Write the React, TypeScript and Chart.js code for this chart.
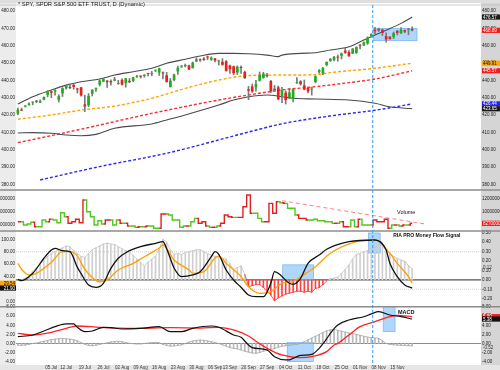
import React, { useEffect, useRef } from 'react';
import { Chart, registerables } from 'chart.js';

Chart.register(...registerables);

const FONT = "'Liberation Sans', Arial, sans-serif";

// ---------------- data ----------------
const dates = [
  '2021-06-22','2021-06-23','2021-06-24','2021-06-25','2021-06-28','2021-06-29','2021-06-30',
  '2021-07-01','2021-07-02','2021-07-06','2021-07-07','2021-07-08','2021-07-09','2021-07-12','2021-07-13','2021-07-14','2021-07-15','2021-07-16','2021-07-19','2021-07-20','2021-07-21','2021-07-22','2021-07-23','2021-07-26','2021-07-27','2021-07-28','2021-07-29','2021-07-30',
  '2021-08-02','2021-08-03','2021-08-04','2021-08-05','2021-08-06','2021-08-09','2021-08-10','2021-08-11','2021-08-12','2021-08-13','2021-08-16','2021-08-17','2021-08-18','2021-08-19','2021-08-20','2021-08-23','2021-08-24','2021-08-25','2021-08-26','2021-08-27','2021-08-30','2021-08-31',
  '2021-09-01','2021-09-02','2021-09-03','2021-09-07','2021-09-08','2021-09-09','2021-09-10','2021-09-13','2021-09-14','2021-09-15','2021-09-16','2021-09-17','2021-09-20','2021-09-21','2021-09-22','2021-09-23','2021-09-24','2021-09-27','2021-09-28','2021-09-29','2021-09-30',
  '2021-10-01','2021-10-04','2021-10-05','2021-10-06','2021-10-07','2021-10-08','2021-10-11','2021-10-12','2021-10-13','2021-10-14','2021-10-15','2021-10-18','2021-10-19','2021-10-20','2021-10-21','2021-10-22','2021-10-25','2021-10-26','2021-10-27','2021-10-28','2021-10-29',
  '2021-11-01','2021-11-02','2021-11-03','2021-11-04','2021-11-05','2021-11-08','2021-11-09','2021-11-10','2021-11-11','2021-11-12','2021-11-15','2021-11-16','2021-11-17','2021-11-18','2021-11-19'
];
const padLabels = ['+1','+2','+3','+4','+5','+6','+7','+8','+9','+10','+11','+12','+13','+14','+15','+16','+17','+18'];

const weekTickDates = ['2021-07-06','2021-07-12','2021-07-19','2021-07-26','2021-08-02','2021-08-09','2021-08-16','2021-08-23','2021-08-30','2021-09-07','2021-09-13','2021-09-20','2021-09-27','2021-10-04','2021-10-11','2021-10-18','2021-10-25','2021-11-01','2021-11-08','2021-11-15'];
const weekTickLabels = ['05 Jul','12 Jul','19 Jul','26 Jul','02 Aug','09 Aug','16 Aug','23 Aug','30 Aug','06 Sep','13 Sep','20 Sep','27 Sep','04 Oct','11 Oct','18 Oct','25 Oct','01 Nov','08 Nov','15 Nov'];

const opens = [420.85,423.19,424.89,425.90,427.17,427.88,427.21,
  428.87,431.67,433.78,433.66,428.78,432.53,435.43,436.24,437.40,434.81,436.01,426.19,425.68,432.34,434.74,437.52,439.31,439.91,439.68,439.82,437.91,
  440.34,438.44,439.78,439.74,442.10,442.46,442.61,443.82,443.62,445.59,444.53,444.24,442.96,436.27,440.23,445.16,447.97,448.17,448.61,447.12,450.97,452.13,
  452.56,453.32,451.98,452.71,450.89,450.70,451.04,448.64,448.12,444.62,447.32,444.92,434.88,436.53,436.05,439.85,441.44,442.81,439.69,435.19,436.02,
  430.98,433.00,430.24,429.27,438.39,439.48,437.16,435.67,434.71,439.08,444.75,443.97,448.92,451.13,451.77,453.13,454.28,457.20,456.45,455.46,455.87,
  460.30,460.22,461.30,465.36,469.28,469.70,469.32,465.58,465.21,465.12,468.64,467.15,469.00,469.24,469.61];
const highs = [424.00,424.05,425.55,427.09,427.65,428.56,428.78,
  430.60,434.10,434.01,434.76,431.73,435.84,437.35,437.84,437.92,435.53,436.06,431.41,432.42,434.70,435.72,440.30,441.03,439.94,440.30,441.80,440.06,
  440.93,441.28,441.12,441.85,442.94,442.80,443.44,443.88,445.26,445.94,447.11,444.96,444.63,441.14,443.71,448.23,448.54,449.46,448.86,450.65,453.07,452.49,
  453.11,454.05,453.63,452.81,451.67,452.57,451.49,448.92,448.34,448.41,448.36,445.37,436.56,437.91,440.03,444.89,444.67,444.05,440.04,437.04,436.77,
  436.03,433.96,435.49,435.12,441.68,439.89,440.26,436.10,436.05,442.66,446.26,447.55,450.71,452.73,453.83,454.67,455.90,458.49,457.16,458.40,459.41,
  460.70,462.23,465.15,467.00,470.65,470.23,469.57,467.38,465.29,467.86,468.81,470.49,469.19,470.01,470.94];
const lows = [420.08,422.51,424.62,425.55,425.89,427.13,427.18,
  428.80,430.52,430.01,431.51,427.52,430.71,434.97,435.31,434.91,432.72,430.92,421.97,424.83,431.01,433.69,436.79,439.26,435.99,437.31,439.81,437.77,
  437.21,436.10,438.73,439.20,441.80,441.31,441.88,442.62,442.66,445.07,442.87,440.85,438.92,436.12,439.71,443.44,447.42,447.77,446.16,447.06,450.71,450.92,
  451.55,451.91,451.55,450.74,448.86,448.72,445.31,444.11,443.22,443.44,444.02,441.02,428.86,433.07,433.75,439.60,441.21,441.90,432.94,433.85,428.78,
  427.23,426.36,429.39,427.54,438.20,437.19,434.62,432.78,431.54,438.58,444.09,443.27,448.27,451.01,451.31,451.05,452.39,455.56,453.86,455.45,455.56,
  458.20,460.08,460.83,464.99,466.92,468.20,465.88,462.04,463.75,464.11,466.23,467.07,467.48,466.34,468.50];
const closes = [423.11,422.60,425.10,426.61,427.47,427.70,428.06,
  430.43,433.72,432.93,434.46,430.92,435.52,437.08,435.59,436.24,434.75,431.34,424.97,431.06,434.55,435.46,439.94,441.02,439.01,438.83,440.65,438.51,
  437.59,441.15,438.98,441.76,442.49,442.13,442.68,443.78,444.04,445.92,446.97,444.04,439.18,439.86,443.36,447.26,447.97,448.91,446.26,450.25,452.23,451.56,
  451.80,453.19,453.08,451.46,450.91,448.98,445.44,446.58,444.17,447.88,447.17,441.40,434.04,433.63,437.86,443.18,443.91,442.64,433.72,434.45,429.14,
  434.24,428.64,433.10,434.90,438.66,437.86,434.69,433.62,435.18,442.50,445.87,447.19,450.64,452.41,453.59,453.12,455.55,455.96,453.94,458.32,459.25,
  460.04,461.90,464.72,466.64,468.38,468.93,467.38,463.62,463.77,467.27,467.43,469.28,468.14,469.73,468.89];

// overlays: [day index, value]
const bbUpper: [number, number][] = [[0,426.4],[4,430.6],[9,434.5],[13,437.3],[17,439.2],[22,440.8],[26,443.1],[31,445.0],[36,447.0],[40,449.9],[45,452.2],[49,454.1],[54,455.6],[58,455.6],[62,455.4],[67,454.6],[70,453.7],[71,454.6],[76,455.6],[80,456.0],[84,457.5],[89,459.4],[93,463.3],[96,466.2],[99,469.0],[103,472.9],[106,476.57]];
const bbLower: [number, number][] = [[0,409.7],[4,409.9],[9,409.5],[13,408.5],[17,408.1],[21,408.9],[26,412.4],[36,414.9],[40,417.2],[45,420.1],[54,425.8],[58,428.7],[62,430.6],[67,431.6],[71,430.6],[74,429.7],[80,429.3],[89,428.7],[96,426.8],[100,424.8],[106,423.65]];
const sma50: [number, number][] = [[0,417.6],[9,420.1],[17,422.9],[26,425.2],[36,429.7],[45,435.4],[54,440.2],[62,442.8],[71,443.1],[80,443.3],[84,444.5],[96,447.0],[106,449.91]];
const sma100: [number, number][] = [[0,404.1],[16,411.4],[36,421.0],[54,428.7],[62,431.6],[71,434.5],[80,436.4],[89,438.7],[96,440.8],[106,445.57]];
const sma200: [number, number][] = [[6,382.6],[22,390.3],[40,398.0],[62,410.2],[71,415.0],[84,419.5],[96,422.8],[106,426.44]];

// volume in millions
const volumeM = [85.1,85.1,80.1,81.6,84.2,77.6,77.6,87.6,85.1,88.7,87.6,
  83.6,98.5,92.5,82.7,85.1,88.7,83.6,117.5,100,92.5,
  80.1,86.6,81.6,87.6,87.6,80.1,87.6,82.7,82.7,78.7,
  78.7,76.7,77.6,77.6,78.7,78.7,75.2,75.2,96.6,96.6,
  95.1,87.6,87.6,76.7,78.7,78.7,85.1,90.1,82.7,85.1,
  78.7,76.7,76.7,78.7,82.7,95.1,92.5,91.6,91.6,91.6,
  107.5,124.9,97.6,97.6,90.1,85.1,85.1,112.5,97.6,114.9,
  113.4,112.5,105.1,105.1,95.1,90.1,90.1,87.6,87.6,88.7,
  86.6,86.6,85.1,85.1,82.7,82.7,85.1,77.6,77.6,87.6,
  77.6,88.7,80.1,80.1,80.1,87.6,85.1,85.1,88.7,75.2,
  80.1,80.1,78.7,80.1,80.1,82.7];
const volTrend: [number, number][] = [[71,116.4],[110,81.2]];

// RIA PRO Money Flow Signal
const mfHist = [0.00,0.00,0.02,0.04,0.09,0.13,0.17,0.21,0.25,0.28,0.30,
  0.32,0.34,0.36,0.35,0.31,0.28,0.25,0.24,0.28,0.32,
  0.34,0.36,0.38,0.39,0.38,0.375,0.35,0.33,0.31,0.29,
  0.26,0.22,0.18,0.15,0.19,0.22,0.25,0.33,0.43,0.40,
  0.32,0.27,0.28,0.27,0.29,0.30,0.31,0.32,0.32,0.30,
  0.28,0.26,0.25,0.24,0.23,0.22,0.17,0.11,0.13,0.15,
  0.06,-0.07,-0.06,-0.05,-0.05,-0.08,-0.12,-0.16,-0.22,-0.19,
  -0.17,-0.15,-0.14,-0.13,-0.12,-0.12,-0.13,-0.12,-0.13,-0.09,
  -0.08,-0.05,-0.01,0.015,0.02,0.03,0.07,0.11,0.16,0.22,
  0.27,0.28,0.30,0.31,0.33,0.34,0.375,0.36,0.32,0.28,
  0.25,0.23,0.21,0.20,0.15,0.12];
const mfFast: [number, number][] = [[0,35.9],[1,33.7],[4,45.5],[7,69.6],[9,82.9],[10,85.6],[12,81.7],[14,80.1],[16,55],[17,45],[19,26.8],[21,23.1],[23,29.5],[25,53.5],[27,69.6],[29,78.5],[33,88.1],[37,93.6],[39,96.2],[40,85],[42,54],[44,40.1],[47,42.8],[49,48.1],[52,72.1],[53,80.1],[54,76],[56,50.8],[58,34.8],[60,23.1],[62,10.7],[64,8],[66,8],[68,29.5],[69,48.1],[70,45.5],[73,29.5],[74,27.9],[76,37.5],[78,61.5],[81,74.8],[83,84],[89,96.2],[96,98.9],[99,82.9],[100,61.5],[102,40.1],[104,26.8],[106,21.9]];
const mfSlow: [number, number][] = [[0,61.5],[1,52],[3,42.8],[5,45.5],[9,63],[12,80.1],[14,80.1],[16,73],[18,52],[22,32],[24,35],[27,50.8],[31,61.5],[34,72.1],[38,86],[39,90.9],[42,66.8],[46,50.8],[47,45.5],[50,48.1],[53,70],[54,73.2],[56,61.5],[60,40.1],[62,24],[65,13.5],[68,16],[71,29.5],[74,32],[76,40.1],[80,56.1],[84,77.6],[91,96.2],[96,98.9],[100,77.6],[102,61.5],[105,40.1],[106,29.54]];

// MACD
const macdLine: [number, number][] = [[0,1.5],[4,1.87],[7,2.75],[10,3.7],[13,4.3],[15,4.3],[16,3.56],[18,2.6],[20,2.75],[23,3.56],[25,3.5],[28,3.19],[33,3.34],[38,3.7],[41,2.6],[44,2.6],[47,3.34],[52,3.85],[54,3.56],[58,1.87],[60,1.36],[62,-0.33],[63,-0.9],[67,-1.43],[69,-2.9],[72,-3.6],[73,-3.6],[74,-3.26],[76,-2.6],[79,-2.4],[81,-1.06],[83,1.0],[84,2.24],[86,4.07],[89,5.16],[93,5.89],[95,6.5],[97,6.99],[100,6.26],[103,5.89],[106,5.38]];
const macdSignal: [number, number][] = [[0,2.24],[4,1.87],[9,2.46],[13,3.34],[16,3.85],[22,3.56],[31,3.34],[41,3.47],[49,3.4],[54,3.56],[58,2.97],[62,1.65],[64,0.5],[67,-1.06],[71,-2.53],[76,-3.12],[79,-2.9],[83,-1.8],[85,-0.33],[86,0],[89,1.87],[92,3.7],[96,4.8],[100,5.89],[102,6.2],[106,5.90]];
const macdHist = [-0.4,-0.4,-0.35,-0.2,0.0,0.1,0.3,0.5,0.7,0.85,0.95,
  1.05,1.1,1.05,0.95,0.8,0.6,0.2,-0.2,-0.45,-0.5,
  -0.4,-0.2,0.0,0.15,0.35,0.45,0.5,0.4,0.2,0.05,
  -0.05,-0.1,-0.1,0.0,0.1,0.2,0.25,0.15,-0.2,-0.45,
  -0.6,-0.55,-0.45,-0.3,0.0,0.3,0.55,0.7,0.75,0.7,
  0.55,0.4,0.2,0.0,-0.3,-0.6,-0.9,-1.1,-1.2,-1.4,
  -1.7,-1.9,-2.1,-2.15,-2.0,-1.7,-1.5,-1.3,-1.1,-0.8,
  -0.6,-0.5,-0.4,-0.3,-0.2,0.1,0.4,0.8,1.2,1.6,
  2.0,2.4,2.8,3.0,3.1,2.9,2.7,2.5,2.3,2.2,
  2.0,1.8,1.6,1.4,1.3,1.2,1.15,0.6,0.0,-0.2,
  -0.3,-0.35,-0.4,-0.45,-0.5,-0.52];

// annotations (in data units)
const signalDay = 95.4;
const highlightBoxes = [
  { axis: 'yP', x0: 95.5, x1: 107.3, v0: 470.0, v1: 462.9 },
  { axis: 'yMR', x0: 71.2, x1: 79.5, v0: 0.16, v1: 0.0 },
  { axis: 'yMR', x0: 94.2, x1: 97.4, v0: 0.497, v1: 0.285 },
  { axis: 'yD', x0: 72.4, x1: 79.4, v0: 0.18, v1: -4.0 },
  { axis: 'yD', x0: 98.2, x1: 101.4, v0: 8.09, v1: 2.6 },
];

const allLabels = [...dates, ...padLabels];
const pts = (a: [number, number][]) => a.map(([i, y]) => ({ x: allLabels[i], y }));
const last = <T,>(a: T[]) => a[a.length - 1];

const GREEN = '#1fae1f';
const RED = '#ee1c1c';

function tag(ctx: CanvasRenderingContext2D, x: number, w: number, y: number, text: string, bg: string, fg: string, align: 'left' | 'right') {
  ctx.fillStyle = bg;
  ctx.fillRect(x, y - 2.6, w, 5.2);
  ctx.fillStyle = fg;
  ctx.font = `4.5px ${FONT}`;
  ctx.textBaseline = 'middle';
  ctx.textAlign = align;
  ctx.fillText(text, align === 'left' ? x + 1 : x + w - 1, y + 0.3);
}

const overlay = {
  id: 'overlay',
  beforeDraw(chart: any) {
    const { ctx, chartArea: ca, width, height } = chart;
    ctx.save();
    ctx.fillStyle = '#ffffff';
    ctx.fillRect(0, 0, width, height);
    ctx.fillStyle = '#ececec';
    ctx.fillRect(0, 0, ca.left, height);
    ctx.fillStyle = '#d5d5d5';
    ctx.fillRect(ca.right, 0, width - ca.right, height);
    ctx.fillStyle = '#e6e6e6';
    ctx.fillRect(0, ca.bottom, width, height - ca.bottom);
    ctx.fillStyle = '#dedede';
    ctx.fillRect(0, 0, width, ca.top - 2);
    ctx.restore();
  },
  beforeDatasetsDraw(chart: any) {
    const { ctx, chartArea: ca, scales } = chart;
    const x = scales.x;
    ctx.save();
    const hline = (y: number, color: string, w: number, dash: number[]) => {
      ctx.beginPath();
      ctx.setLineDash(dash);
      ctx.strokeStyle = color;
      ctx.lineWidth = w;
      ctx.moveTo(ca.left, y);
      ctx.lineTo(ca.right, y);
      ctx.stroke();
    };
    hline(scales.yM.getPixelForValue(80), '#c4c4c4', 0.8, [1, 1]);
    hline(scales.yM.getPixelForValue(20), '#c4c4c4', 0.8, [1, 1]);
    hline(scales.yMR.getPixelForValue(0), '#555555', 1.2, []);
    hline(scales.yD.getPixelForValue(0), '#8a8a8a', 1, []);
    ctx.setLineDash([]);
    for (const b of highlightBoxes) {
      const s = scales[b.axis];
      const l = x.getPixelForValue(b.x0);
      const r = x.getPixelForValue(b.x1);
      const t = s.getPixelForValue(b.v0);
      const bt = s.getPixelForValue(b.v1);
      ctx.fillStyle = 'rgba(125,190,248,0.62)';
      ctx.fillRect(l, t, r - l, bt - t);
      ctx.strokeStyle = 'rgba(90,165,240,0.9)';
      ctx.lineWidth = 0.6;
      ctx.strokeRect(l, t, r - l, bt - t);
    }
    ctx.restore();
  },
  afterDatasetsDraw(chart: any) {
    const { ctx, chartArea: ca, scales, width } = chart;
    const x = scales.x;
    ctx.save();
    ctx.strokeStyle = '#8c8c8c';
    ctx.lineWidth = 1.4;
    for (const id of ['yP', 'yV', 'yM']) {
      const yb = scales[id].bottom;
      ctx.beginPath();
      ctx.moveTo(0, yb);
      ctx.lineTo(width, yb);
      ctx.stroke();
    }
    ctx.strokeStyle = '#c0c0c0';
    ctx.lineWidth = 0.8;
    ctx.beginPath();
    ctx.moveTo(0, ca.top);
    ctx.lineTo(width, ca.top);
    ctx.stroke();
    const vx = x.getPixelForValue(signalDay);
    ctx.strokeStyle = '#2a9cff';
    ctx.lineWidth = 1;
    ctx.setLineDash([3, 2]);
    ctx.beginPath();
    ctx.moveTo(vx, ca.top);
    ctx.lineTo(vx, ca.bottom);
    ctx.stroke();
    ctx.setLineDash([]);

    ctx.fillStyle = '#111';
    ctx.textBaseline = 'middle';
    ctx.font = `5.5px ${FONT}`;
    ctx.textAlign = 'center';
    ctx.fillText('Volume', x.getPixelForValue(104.4), scales.yV.getPixelForValue(99.5));
    ctx.font = `bold 5px ${FONT}`;
    ctx.textAlign = 'left';
    ctx.fillText('RIA PRO Money Flow Signal', x.getPixelForValue(100.9), scales.yM.getPixelForValue(105.3));
    ctx.font = `bold 5.5px ${FONT}`;
    ctx.textAlign = 'center';
    ctx.fillText('MACD', x.getPixelForValue(104.4), scales.yD.getPixelForValue(6.9));

    const R = ca.right + 1;
    const RW = width - ca.right - 1;
    const lastClose = last(closes);
    const lastUp = lastClose >= last(opens);
    tag(ctx, R, RW, scales.yPR.getPixelForValue(last(bbUpper)[1]), last(bbUpper)[1].toFixed(2), '#1a1a1a', '#fff', 'left');
    tag(ctx, R, RW, scales.yPR.getPixelForValue(lastClose), lastClose.toFixed(2), lastUp ? GREEN : RED, '#fff', 'left');
    tag(ctx, R, RW, scales.yPR.getPixelForValue(last(sma50)[1]), last(sma50)[1].toFixed(2), '#ffa500', '#111', 'left');
    tag(ctx, R, RW, scales.yPR.getPixelForValue(last(sma100)[1]), last(sma100)[1].toFixed(2), '#ee2020', '#fff', 'left');
    tag(ctx, R, RW, scales.yPR.getPixelForValue(last(sma200)[1]), last(sma200)[1].toFixed(2), '#2323e8', '#fff', 'left');
    tag(ctx, R, RW, scales.yPR.getPixelForValue(last(bbLower)[1]), last(bbLower)[1].toFixed(2), '#1a1a1a', '#fff', 'left');
    tag(ctx, R, RW, scales.yVR.getPixelForValue(last(volumeM)), String(Math.round(last(volumeM) * 1e6)), lastUp ? GREEN : RED, '#fff', 'left');
    tag(ctx, R, RW, scales.yDR.getPixelForValue(last(macdSignal)[1]), last(macdSignal)[1].toFixed(2), '#ee2020', '#fff', 'left');
    tag(ctx, R, RW, scales.yDR.getPixelForValue(last(macdLine)[1]), last(macdLine)[1].toFixed(2), '#111', '#fff', 'left');
    ctx.fillStyle = '#333';
    ctx.font = `4.5px ${FONT}`;
    ctx.textAlign = 'left';
    ctx.fillText(last(mfHist).toFixed(2), R + 1, scales.yMR.getPixelForValue(last(mfHist)) - 1);
    ctx.fillText(last(macdHist).toFixed(2), R + 1, scales.yDR.getPixelForValue(last(macdHist)) + 1.5);
    tag(ctx, 0, ca.left, scales.yM.getPixelForValue(last(mfSlow)[1]), last(mfSlow)[1].toFixed(2), '#ffa500', '#111', 'right');
    tag(ctx, 0, ca.left, scales.yM.getPixelForValue(last(mfFast)[1]), last(mfFast)[1].toFixed(2), '#111', '#fff', 'right');
    ctx.restore();
  },
  afterDraw(chart: any) {
    const { ctx } = chart;
    ctx.save();
    ctx.fillStyle = '#1a1a1a';
    ctx.font = `5.8px ${FONT}`;
    ctx.textBaseline = 'middle';
    ctx.textAlign = 'left';
    ctx.fillText('* SPY, SPDR S&P 500 ETF TRUST, D (Dynamic)', 18, 4);
    ctx.restore();
  },
};

const tickFont = { family: FONT, size: 4.5 };

function yAxis(position: 'left' | 'right', weight: number, stackWeight: number, min: number, max: number, step: number, fmt: (v: number) => string) {
  return {
    type: 'linear' as const,
    position,
    stack: 'panels',
    stackWeight,
    weight,
    min,
    max,
    beginAtZero: false,
    display: true,
    grid: { display: false, drawTicks: false },
    border: { display: false },
    ticks: {
      stepSize: step,
      includeBounds: false,
      autoSkip: false,
      font: tickFont,
      color: '#222',
      padding: 1,
      callback: (v: any) => fmt(Number(v)),
    },
    afterFit: (s: any) => {
      s.width = position === 'left' ? 16 : 19;
    },
  };
}

const fmt2 = (v: number) => v.toFixed(2);
const fmtVol = (v: number) => String(Math.round(v * 1e6));

export default function App() {
  const ref = useRef<HTMLCanvasElement>(null);

  useEffect(() => {
    document.body.style.margin = '0';
    if (!ref.current) return;
    const up = closes.map((c, i) => c >= opens[i]);

    const W_PRICE = 185, W_VOL = 41, W_MF = 75.7, W_MACD = 58.3;

    const chart = new Chart(ref.current, {
      type: 'bar',
      data: {
        labels: allLabels,
        datasets: [
          {
            type: 'bar',
            data: opens.map((o, i) => [Math.min(o, closes[i]), Math.max(o, closes[i])]) as any,
            backgroundColor: up.map((u) => (u ? GREEN : RED)),
            yAxisID: 'yP',
            grouped: false,
            barPercentage: 0.72,
            categoryPercentage: 1,
            minBarLength: 1,
            borderWidth: 0,
            order: 1,
          } as any,
          {
            type: 'bar',
            data: lows.map((l, i) => [l, highs[i]]) as any,
            backgroundColor: '#7a7a7a',
            yAxisID: 'yP',
            grouped: false,
            barThickness: 1,
            borderWidth: 0,
            order: 2,
          } as any,
          { type: 'line', data: pts(bbUpper) as any, borderColor: '#4a4a4a', borderWidth: 1.1, pointRadius: 0, cubicInterpolationMode: 'monotone', yAxisID: 'yP', order: 3 } as any,
          { type: 'line', data: pts(bbLower) as any, borderColor: '#4a4a4a', borderWidth: 1.1, pointRadius: 0, cubicInterpolationMode: 'monotone', yAxisID: 'yP', order: 3 } as any,
          { type: 'line', data: pts(sma50) as any, borderColor: '#ffa500', borderWidth: 1.4, borderDash: [3, 2], pointRadius: 0, cubicInterpolationMode: 'monotone', yAxisID: 'yP', order: 4 } as any,
          { type: 'line', data: pts(sma100) as any, borderColor: '#ff2a2a', borderWidth: 1.4, borderDash: [3, 2], pointRadius: 0, cubicInterpolationMode: 'monotone', yAxisID: 'yP', order: 4 } as any,
          { type: 'line', data: pts(sma200) as any, borderColor: '#2a2aee', borderWidth: 1.4, borderDash: [3, 2], pointRadius: 0, cubicInterpolationMode: 'monotone', yAxisID: 'yP', order: 4 } as any,
          {
            type: 'line',
            data: volumeM,
            stepped: 'middle',
            borderWidth: 1.4,
            pointRadius: 0,
            borderColor: GREEN,
            segment: { borderColor: (c: any) => (up[c.p1DataIndex] ? '#52c81e' : '#e02020') },
            yAxisID: 'yV',
            order: 1,
          } as any,
          { type: 'line', data: pts(volTrend) as any, borderColor: '#ff8080', borderWidth: 1, borderDash: [4, 3], pointRadius: 0, yAxisID: 'yV', order: 2 } as any,
          { type: 'line', data: pts(mfFast) as any, borderColor: '#111111', borderWidth: 1.3, pointRadius: 0, cubicInterpolationMode: 'monotone', yAxisID: 'yM', order: 1 } as any,
          { type: 'line', data: pts(mfSlow) as any, borderColor: '#ffa000', borderWidth: 1.3, pointRadius: 0, cubicInterpolationMode: 'monotone', yAxisID: 'yM', order: 2 } as any,
          {
            type: 'line',
            data: mfHist,
            borderColor: '#c4c4c4',
            borderWidth: 0.8,
            pointRadius: 0,
            segment: { borderColor: (c: any) => (mfHist[c.p1DataIndex] < 0 ? '#ff3030' : '#c4c4c4') },
            yAxisID: 'yMR',
            order: 5,
          } as any,
          {
            type: 'bar',
            data: mfHist,
            backgroundColor: mfHist.map((v) => (v < 0 ? '#ff4040' : '#cfcfcf')),
            yAxisID: 'yMR',
            grouped: false,
            barThickness: 1,
            borderWidth: 0,
            order: 6,
          } as any,
          { type: 'line', data: pts(macdLine) as any, borderColor: '#111111', borderWidth: 1.2, pointRadius: 0, cubicInterpolationMode: 'monotone', yAxisID: 'yD', order: 1 } as any,
          { type: 'line', data: pts(macdSignal) as any, borderColor: '#ff2222', borderWidth: 1.3, pointRadius: 0, cubicInterpolationMode: 'monotone', yAxisID: 'yD', order: 2 } as any,
          { type: 'line', data: macdHist, borderColor: '#a8a8a8', borderWidth: 0.8, pointRadius: 0, yAxisID: 'yD', order: 5 } as any,
          {
            type: 'bar',
            data: macdHist,
            backgroundColor: '#b8b8b8',
            yAxisID: 'yD',
            grouped: false,
            barThickness: 1,
            borderWidth: 0,
            order: 6,
          } as any,
        ],
      },
      options: {
        responsive: false,
        animation: false,
        devicePixelRatio: 1,
        events: [],
        layout: { padding: { top: 5, left: 0, right: 0, bottom: 0 } },
        plugins: {
          legend: { display: false },
          tooltip: { enabled: false },
          title: { display: false },
        },
        scales: {
          x: {
            type: 'category',
            offset: true,
            grid: { display: false, drawTicks: false },
            border: { display: false },
            ticks: {
              autoSkip: false,
              maxRotation: 0,
              minRotation: 0,
              font: tickFont,
              color: '#333',
              padding: 0,
              callback: (_v: any, i: number) => {
                const k = weekTickDates.indexOf(allLabels[i]);
                return k >= 0 ? weekTickLabels[k] : null;
              },
            },
            afterFit: (s: any) => {
              s.height = 5;
            },
          },
          yP: yAxis('left', 4, W_PRICE, 376.8, 483.5, 10, fmt2),
          yV: yAxis('left', 3, W_VOL, 71.2, 132.4, 20, fmtVol),
          yM: yAxis('left', 2, W_MF, -8, 113.3, 20, fmt2),
          yD: yAxis('left', 1, W_MACD, -4.73, 8.09, 2, fmt2),
          yPR: yAxis('right', 1, W_PRICE, 376.8, 483.5, 10, fmt2),
          yVR: yAxis('right', 2, W_VOL, 71.2, 132.4, 20, fmtVol),
          yMR: yAxis('right', 3, W_MF, -0.283, 0.518, 0.1, fmt2),
          yDR: yAxis('right', 4, W_MACD, -4.73, 8.09, 2, fmt2),
        } as any,
      },
      plugins: [overlay],
    });
    return () => chart.destroy();
  }, []);

  return <canvas ref={ref} width={500} height={370} style={{ display: 'block', width: 500, height: 370 }} />;
}
